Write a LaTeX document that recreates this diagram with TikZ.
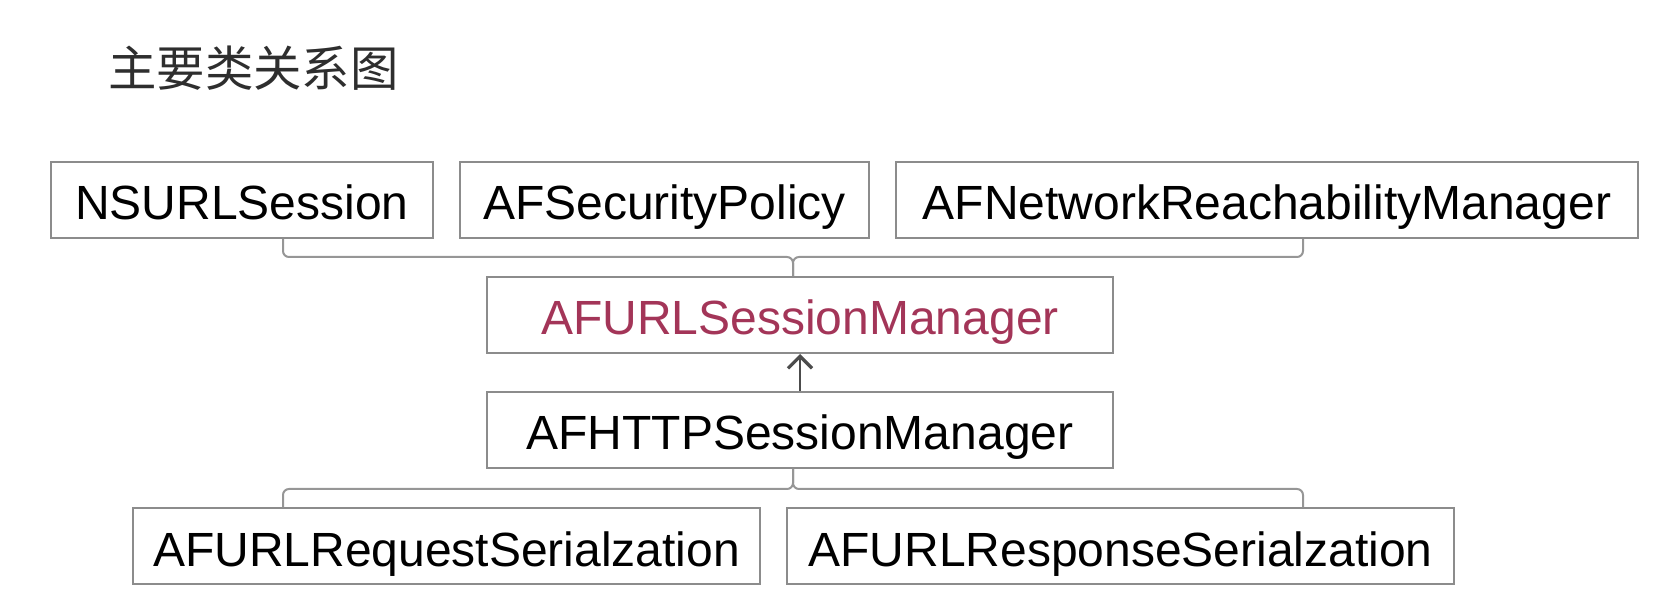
\documentclass[tikz,border=0pt]{standalone}
\usepackage{fontspec}
\setmainfont{Liberation Sans}
\newfontfamily\cjk{Noto Sans CJK SC}
\usetikzlibrary{arrows.meta,positioning}
\definecolor{boxgray}{HTML}{8C8C8C}
\definecolor{linkgray}{HTML}{969696}
\definecolor{mainred}{HTML}{A33558}
\definecolor{titlegray}{HTML}{2E2E2E}

\begin{document}
\begin{tikzpicture}[x=0.5pt,y=-0.5pt]
\tikzstyle{cls}=[draw=boxgray,line width=1pt,rectangle,inner sep=0pt,minimum height=38pt,text height=22pt,text depth=2.2pt,font=\fontsize{24}{28}\selectfont]
\tikzstyle{link}=[draw=linkgray,line width=1pt,rounded corners=3pt]
\tikzstyle{arr}=[draw=black!70,line width=0.8pt,-{Straight Barb[length=6pt,width=12pt,line width=1.6pt]}]
\useasboundingbox (0,0) rectangle (1678,614);
\node[anchor=west,inner sep=0pt,text=titlegray,font=\cjk\fontsize{24.2}{28}\selectfont] (title) at (108,68) {主要类关系图};
% top row
\node[cls,minimum width=191pt] (ns) at (242,200) {NSURLSession};
\node[cls,minimum width=204.5pt] (sec) at (664.5,200) {AFSecurityPolicy};
\node[cls,minimum width=371pt] (reach) at (1267,200) {AFNetworkReachabilityManager};
% managers
\node[cls,minimum width=313pt,text=mainred] (sm) at (800,315) {AFURLSessionManager};
\node[cls,minimum width=313pt] (http) at (800,430) {AFHTTPSessionManager};
% serializers
\node[cls,minimum width=313.5pt] (req) at (446.5,546.5) {AFURLRequestSerialzation};
\node[cls,minimum width=333.5pt] (resp) at (1120.5,546.5) {AFURLResponseSerialzation};
\coordinate (cl) at (283,0);
\coordinate (cr) at (1303,0);
\coordinate (j1) at (793,257);
\coordinate (j2) at (793,489);
\draw[link] (ns.south -| cl) |- (j1) -- (sm.north -| j1);
\draw[link] (reach.south -| cr) |- (j1) -- (sm.north -| j1);
\draw[arr] (http) -- (sm);
\draw[link] (http.south -| j2) -- (j2) -| (req.north -| cl);
\draw[link] (http.south -| j2) -- (j2) -| (resp.north -| cr);
\end{tikzpicture}
\end{document}
